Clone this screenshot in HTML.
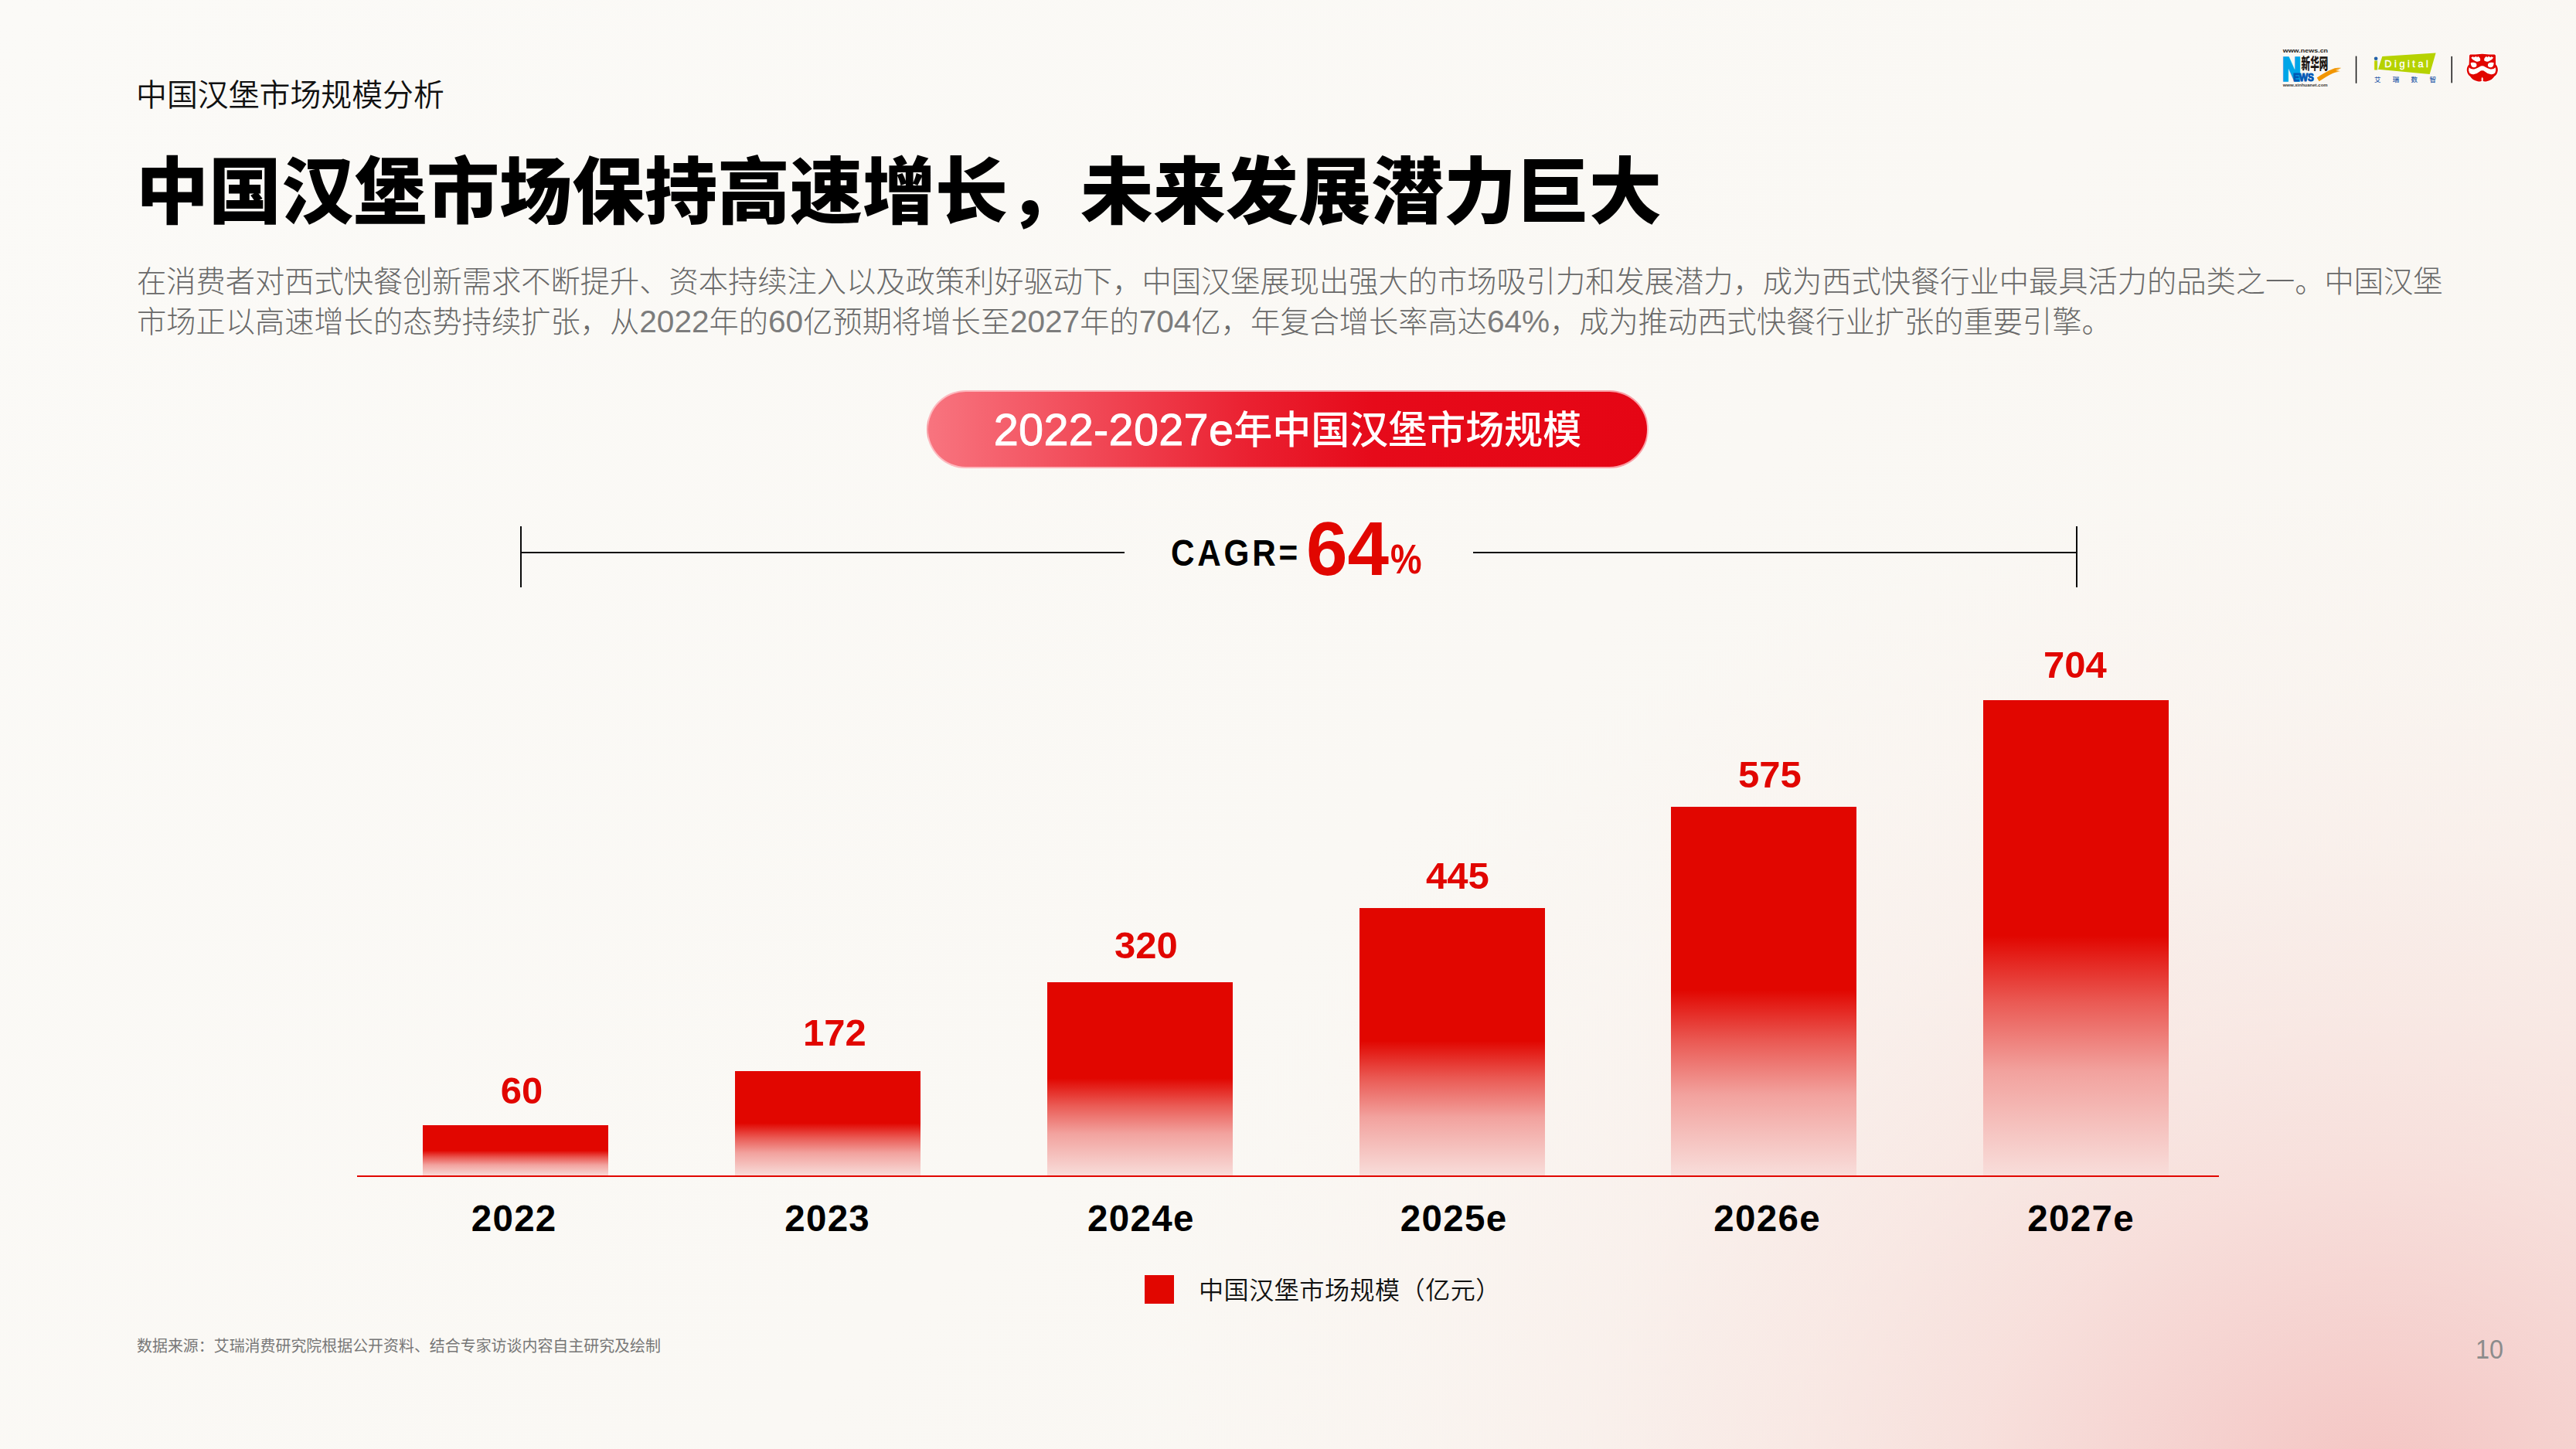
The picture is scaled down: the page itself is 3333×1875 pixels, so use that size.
<!DOCTYPE html>
<html lang="zh-CN">
<head>
<meta charset="utf-8">
<title>中国汉堡市场规模分析</title>
<style>
html,body{margin:0;padding:0;}
body{
  width:3333px;height:1875px;position:relative;overflow:hidden;
  background:#faf8f5;
  font-family:"Liberation Sans","Noto Sans CJK SC",sans-serif;
  color:#000;
}
.abs{position:absolute;white-space:nowrap;}
#bg{position:absolute;left:0;top:0;width:3333px;height:1875px;
  background:
    radial-gradient(ellipse 1600px 1300px at 3080px 1930px, rgba(244,196,194,0.97) 0%, rgba(244,196,194,0.93) 4%, rgba(244,197,195,0.70) 18%, rgba(245,198,195,0.46) 33%, rgba(245,200,196,0.29) 48%, rgba(246,203,198,0.15) 64%, rgba(247,208,202,0.06) 80%, rgba(247,215,208,0) 100%),
    linear-gradient(135deg,#fbfaf7 0%,#faf8f4 55%,#f9f5f0 100%);
}
#subtitle{left:176px;top:93px;font-size:39.9px;line-height:60px;font-weight:350;color:#111;}
#title{left:176px;top:185.3px;font-size:94px;line-height:130px;font-weight:900;color:#000;}
#desc{left:177px;top:339px;font-size:38.25px;line-height:51.6px;font-weight:300;color:#696969;}
#desc .d{font-size:40.6px;color:#7c7c7c;}
#pill{left:1199px;top:505px;width:934px;height:101px;border-radius:51px;box-sizing:border-box;
  background:linear-gradient(90deg,#f8747f 0%,#f14a58 22%,#ea2030 45%,#e60a1a 62%,#e50514 100%);
  border:2px solid rgba(255,210,214,0.75);
  color:#fff;font-size:50px;font-weight:500;text-align:center;line-height:94.4px;}
#pill .n{font-size:57.6px;-webkit-text-stroke:0.9px #fff;position:relative;top:2.2px;letter-spacing:0.3px;}
.hl{position:absolute;height:2.1px;background:#0a0a0a;}
.vl{position:absolute;width:2.1px;background:#0a0a0a;}
#cagr{left:1515px;top:681px;font-size:48px;line-height:70px;font-weight:700;letter-spacing:4.3px;color:#000;transform:scaleX(0.88);transform-origin:0 50%;}
#p64{left:1690px;top:649.5px;font-size:99px;line-height:120px;font-weight:700;color:#e10600;letter-spacing:0px;transform:scaleX(0.972);transform-origin:0 50%;}
#pct{left:1798.5px;top:689px;font-size:53px;line-height:70px;font-weight:700;color:#e10600;transform:scaleX(0.86);transform-origin:0 50%;}
.bar{position:absolute;width:240px;
  background:linear-gradient(180deg,#e10600 0%,#e10600 49.5%,#ea5a54 63.5%,#f2a29e 78%,#f8dedb 100%);}
.val{position:absolute;width:400px;text-align:center;font-size:49px;line-height:60px;font-weight:700;color:#e10600;white-space:nowrap;}
.yr{position:absolute;width:400px;text-align:center;font-size:47.5px;line-height:60px;font-weight:700;color:#000;white-space:nowrap;letter-spacing:1.3px;text-indent:1.3px;}
#axis{position:absolute;left:462.4px;top:1521.3px;width:2408.4px;height:2.1px;background:#e10600;}
#lgsq{position:absolute;left:1481px;top:1649.5px;width:37.8px;height:37.8px;background:#e10600;}
#lgtx{left:1551px;top:1646px;letter-spacing:0.5px;font-size:32.1px;line-height:48px;color:#111;font-weight:350;}
#src{left:177px;top:1727px;font-size:19.95px;line-height:30px;color:#777;font-weight:400;}
#pg{left:3202.5px;top:1724px;font-size:35.6px;line-height:44px;color:#8c8c8c;font-weight:300;transform:scaleX(0.91);transform-origin:0 50%;}
</style>
</head>
<body>
<div id="bg"></div>


<svg id="logos" style="position:absolute;left:2940px;top:55px;" width="320" height="70" viewBox="2940 55 320 70">
  <!-- Xinhua News logo -->
  <text x="2953.7" y="68" font-family="'Liberation Sans',sans-serif" font-weight="700" font-size="7.8" fill="#262220" textLength="58.4" lengthAdjust="spacingAndGlyphs">www.news.cn</text>
  <text x="2953.1" y="104.1" font-family="'Liberation Sans',sans-serif" font-weight="700" font-size="43.3" fill="#00a5e7" stroke="#00a5e7" stroke-width="3.4" stroke-linejoin="miter" textLength="23.8" lengthAdjust="spacingAndGlyphs">N</text>
  <text x="2977.6" y="89.6" font-family="'Liberation Sans','Noto Sans CJK SC',sans-serif" font-weight="900" font-size="20.4" fill="#1c1614" textLength="34.6" lengthAdjust="spacingAndGlyphs">新华网</text>
  <text x="2967.3" y="105.3" font-family="'Liberation Sans',sans-serif" font-weight="700" font-size="14.6" fill="#0057b4" stroke="#0057b4" stroke-width="1.1" textLength="26.6" lengthAdjust="spacingAndGlyphs">EWS</text>
  <path d="M2997.8,100.6 C3004,96 3011.5,91.6 3019,88.9 C3022,87.9 3026,87.7 3029.2,87.9 L3026,89.2 L3021.5,89.9 L3027.4,90.6 L3022,91.9 L3028,92.4 C3023.5,93 3020.5,93.8 3018,95 C3012,97.8 3006.5,101.3 3000.6,105.3 Z" fill="#f29600"/>
  <text x="2953.7" y="112" font-family="'Liberation Sans',sans-serif" font-weight="700" font-size="5.6" fill="#3a3634" textLength="58" lengthAdjust="spacingAndGlyphs">www.xinhuanet.com</text>
  <rect x="3047.8" y="72.6" width="1.5" height="35.2" fill="#141414"/>
  <!-- iDigital logo -->
  <polygon points="3082.3,73 3151.6,68.4 3143.7,95.9 3077,89.8" fill="#b6d200"/>
  <text x="3071.4" y="89.5" font-family="'Liberation Sans',sans-serif" font-weight="700" font-size="19.5" fill="#b6d200" stroke="#b6d200" stroke-width="1.1">i</text>
  <circle cx="3074.1" cy="75.7" r="2.25" fill="#2360ae"/>
  <text x="3085.3" y="86.9" font-family="'Liberation Sans',sans-serif" font-size="12.8" fill="#ffffff" stroke="#ffffff" stroke-width="0.35" textLength="56.6" lengthAdjust="spacing">Digital</text>
  <text x="3072 3095.7 3119.5 3143.4" y="106.2" font-family="'Liberation Sans','Noto Sans CJK SC',sans-serif" font-weight="500" font-size="8.5" fill="#2a5caa">艾瑞数智</text>
  <rect x="3171.5" y="72.9" width="1.5" height="34.4" fill="#141414"/>
  <!-- red opera mask -->
  <g transform="translate(3180,60) scale(0.037965)">
    <path id="maskout" d="M430,275 Q400,280 395,320 L385,620 Q300,700 310,820 Q330,960 420,1020 Q500,1150 680,1195 Q790,1212 815,1175 Q790,1090 835,1040 Q880,1090 855,1175 Q880,1212 990,1195 Q1170,1150 1250,1020 Q1345,960 1365,820 Q1375,700 1295,620 L1290,320 Q1285,280 1250,275 Q1100,285 1000,270 Q835,245 670,270 Q560,285 430,275 Z" fill="#e10600" stroke="#ffffff" stroke-width="60" stroke-linejoin="round" paint-order="stroke"/>
    <path d="M452,380 L490,372 L520,345 L545,378 L600,352 L640,345 L650,375 L700,340 Q790,400 765,490 Q700,540 610,505 Q500,470 452,380 Z" fill="#fff"/>
    <path d="M1218,380 L1180,372 L1150,345 L1125,378 L1070,352 L1030,345 L1020,375 L970,340 Q880,400 905,490 Q970,540 1060,505 Q1170,470 1218,380 Z" fill="#fff"/>
    <path d="M440,560 Q520,530 620,570 Q670,640 620,700 Q540,740 480,690 Q440,640 440,560 Z" fill="#fff"/>
    <path d="M1230,560 Q1150,530 1050,570 Q1000,640 1050,700 Q1130,740 1190,690 Q1230,640 1230,560 Z" fill="#fff"/>
    <path d="M385,715 Q450,790 560,775 Q660,760 740,700 Q835,630 930,700 Q1010,760 1110,775 Q1220,790 1285,715 Q1320,820 1270,910 Q1200,970 1110,950 Q1010,930 930,860 Q835,790 740,860 Q660,930 560,950 Q470,970 400,910 Q350,820 385,715 Z" fill="#fff"/>
  </g>
</svg>

<div class="abs" id="subtitle">中国汉堡市场规模分析</div>
<div class="abs" id="title">中国汉堡市场保持高速增长，未来发展潜力巨大</div>
<div class="abs" id="desc">在消费者对西式快餐创新需求不断提升、资本持续注入以及政策利好驱动下，中国汉堡展现出强大的市场吸引力和发展潜力，成为西式快餐行业中最具活力的品类之一。中国汉堡<br>市场正以高速增长的态势持续扩张，从<span class="d">2022</span>年的<span class="d">60</span>亿预期将增长至<span class="d">2027</span>年的<span class="d">704</span>亿，年复合增长率高达<span class="d">64%</span>，成为推动西式快餐行业扩张的重要引擎。</div>

<div class="abs" id="pill"><span class="n">2022-2027e</span>年中国汉堡市场规模</div>

<div class="vl" style="left:673.1px;top:681px;height:78.7px;"></div>
<div class="hl" style="left:673.1px;top:714.4px;width:782px;"></div>
<div class="hl" style="left:1906px;top:714.4px;width:781px;"></div>
<div class="vl" style="left:2685.6px;top:681px;height:78.7px;"></div>
<div class="abs" id="cagr">CAGR=</div>
<div class="abs" id="p64">64</div>
<div class="abs" id="pct">%</div>

<div class="bar" style="left:547.3px;top:1455.9px;height:66.1px;"></div>
<div class="bar" style="left:951px;top:1385.9px;height:136.1px;"></div>
<div class="bar" style="left:1354.7px;top:1271px;height:251px;"></div>
<div class="bar" style="left:1758.5px;top:1175.1px;height:346.9px;"></div>
<div class="bar" style="left:2162.2px;top:1044px;height:478px;"></div>
<div class="bar" style="left:2565.9px;top:906px;height:616px;"></div>
<div id="axis"></div>

<div class="val" style="left:475px;top:1381px;">60</div>
<div class="val" style="left:880px;top:1306px;">172</div>
<div class="val" style="left:1283px;top:1193px;">320</div>
<div class="val" style="left:1686px;top:1103px;">445</div>
<div class="val" style="left:2090px;top:972px;">575</div>
<div class="val" style="left:2485px;top:830px;">704</div>

<div class="yr" style="left:464.5px;top:1547px;">2022</div>
<div class="yr" style="left:870px;top:1547px;">2023</div>
<div class="yr" style="left:1275.7px;top:1547px;">2024e</div>
<div class="yr" style="left:1680.5px;top:1547px;">2025e</div>
<div class="yr" style="left:2086px;top:1547px;">2026e</div>
<div class="yr" style="left:2492px;top:1547px;">2027e</div>

<div id="lgsq"></div>
<div class="abs" id="lgtx">中国汉堡市场规模（亿元）</div>

<div class="abs" id="src">数据来源：艾瑞消费研究院根据公开资料、结合专家访谈内容自主研究及绘制</div>
<div class="abs" id="pg">10</div>

</body>
</html>
